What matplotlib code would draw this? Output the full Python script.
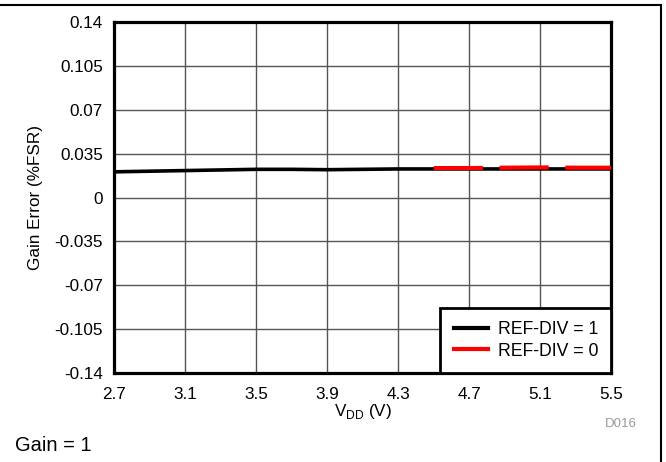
import matplotlib
matplotlib.use("Agg")
import matplotlib.pyplot as plt
from matplotlib.lines import Line2D

plt.rcParams['font.family'] = ['Liberation Sans', 'DejaVu Sans']

vdd_ref1 = [2.7, 3.1, 3.5, 3.7, 3.9, 4.3, 4.7, 5.1, 5.5]
gain_ref1 = [0.0205, 0.0215, 0.0225, 0.0225, 0.0222, 0.0228, 0.0228, 0.0228, 0.0228]
vdd_ref0 = [4.5, 4.7, 4.9, 5.1, 5.3, 5.5]
gain_ref0 = [0.0235, 0.0235, 0.0238, 0.024, 0.0238, 0.0238]

xticks = [2.7, 3.1, 3.5, 3.9, 4.3, 4.7, 5.1, 5.5]
yticks = [-0.14, -0.105, -0.07, -0.035, 0, 0.035, 0.07, 0.105, 0.14]
ytick_labels = ["-0.14", "-0.105", "-0.07", "-0.035", "0", "0.035", "0.07", "0.105", "0.14"]

FS = 12.3

fig = plt.figure(figsize=(6.66, 4.62), dpi=100)
ax = fig.add_axes([0.171, 0.193, 0.747, 0.759])

ax.plot(vdd_ref1, gain_ref1, color='black', lw=2.6, solid_capstyle='butt', zorder=3)
ax.plot(vdd_ref0, gain_ref0, color='#ff0000', lw=3, dashes=(11.8, 4.0), zorder=4)

ax.set_xlim(2.7, 5.5)
ax.set_ylim(-0.14, 0.14)
ax.set_xticks(xticks)
ax.set_xticklabels([f"{v:.1f}" for v in xticks])
ax.set_yticks(yticks)
ax.set_yticklabels(ytick_labels)
ax.tick_params(axis='x', length=0, labelsize=FS, pad=10)
ax.tick_params(axis='y', length=0, labelsize=FS, pad=8)
ax.grid(True, color='#555555', lw=1)
ax.set_axisbelow(True)
for s in ax.spines.values():
    s.set_linewidth(2.3)
    s.set_color('black')

ax.set_xlabel("V$_{\\mathregular{DD}}$ (V)", fontsize=FS, va='center')
ax.xaxis.set_label_coords(0.5, -0.111)
ax.set_ylabel("Gain Error (%FSR)", fontsize=FS, va='center')
ax.yaxis.set_label_coords(-0.158, 0.5)

handles = [Line2D([], [], color='black', lw=3),
           Line2D([], [], color='#ff0000', lw=3)]
leg = ax.legend(handles, ["REF-DIV = 1", "REF-DIV = 0"], loc='lower right',
                fontsize=12.7, frameon=True, fancybox=False, borderaxespad=0,
                handlelength=1.95, handletextpad=0.55, borderpad=0.75, labelspacing=0.25)
leg.get_frame().set_edgecolor('black')
leg.get_frame().set_linewidth(2)
leg.get_frame().set_alpha(1)

fig.text(0.956, 0.082, "D016", fontsize=9.5, color='#999999', ha='right', va='center')
fig.text(0.023, 0.035, "Gain = 1", fontsize=14.5, color='black', va='center')

fig.add_artist(Line2D([0, 0.993], [0.989, 0.989], color='black', lw=1.5, transform=fig.transFigure))
fig.add_artist(Line2D([0.993, 0.993], [0, 0.989], color='black', lw=1.5, transform=fig.transFigure))

fig.savefig("out.png", dpi=100)
